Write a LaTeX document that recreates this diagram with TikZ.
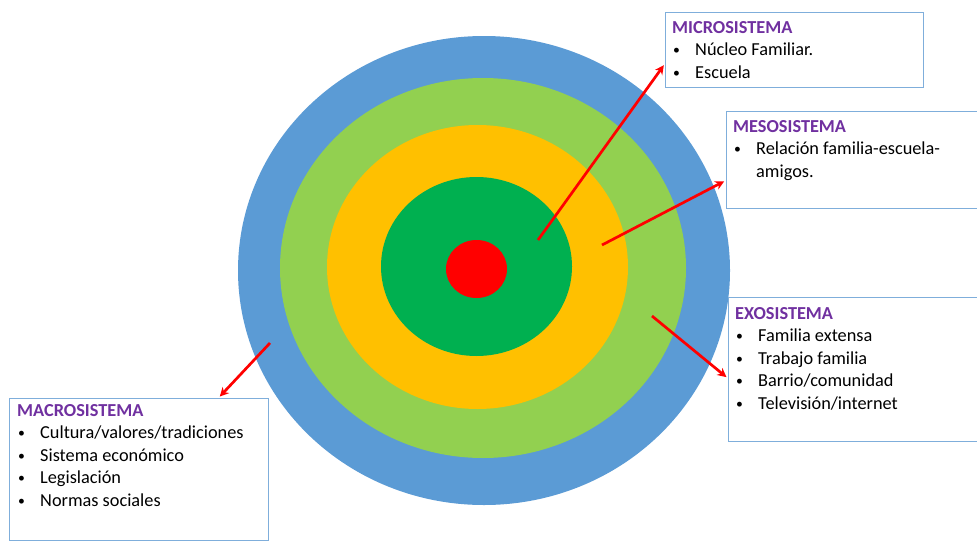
\documentclass[tikz,border=0pt]{standalone}
\usepackage{fontspec}
\setmainfont{Carlito}
\usetikzlibrary{arrows.meta}
\definecolor{azulanillo}{HTML}{5B9BD5}
\definecolor{verdeclaro}{HTML}{92D050}
\definecolor{amarillo}{HTML}{FFC000}
\definecolor{verdeoscuro}{HTML}{00B050}
\definecolor{rojo}{HTML}{FF0000}
\definecolor{borde}{HTML}{7FAEDB}
\definecolor{titulo}{HTML}{7030A0}
\newcommand{\vineta}{\hspace*{1pt}\makebox[22pt][l]{\raisebox{1pt}{\scalebox{0.75}{\textbullet}}}}
\newcommand{\titulo}[1]{{\color{titulo}\bfseries #1}}
\tikzset{
  caja/.style={draw=borde, line width=1pt, fill=white, anchor=north west, inner sep=0pt},
  texto/.style={anchor=north west, align=left, inner sep=0pt, font=\fontsize{18.3}{22.5}\selectfont},
  flecha/.style={draw=rojo, line width=2.7pt, shorten >=2pt, -{Stealth[length=9pt,width=9pt]}}
}
\begin{document}
\begin{tikzpicture}[x=1pt,y=-1pt]
                \clip (0,0) rectangle (977,554);
                \fill[white] (0,0) rectangle (977,554);
                %% anillos
                \fill[azulanillo] (484,270.5) ellipse [x radius=246, y radius=234.5];
                \fill[verdeclaro] (483,268) ellipse [x radius=203, y radius=190];
                \fill[amarillo] (477.5,267) ellipse [x radius=150.5, y radius=142];
                \fill[verdeoscuro] (476.5,266.5) ellipse [x radius=95.5, y radius=89.5];
                \fill[rojo] (476.5,269) ellipse [x radius=30.5, y radius=29];
                %% cajas
                \node[caja, minimum width=258pt, minimum height=75pt] (micro) at (665,12) {};
                \node[caja, minimum width=256pt, minimum height=97pt] (meso) at (726,111) {};
                \node[caja, minimum width=254pt, minimum height=144pt] (exo) at (728,297) {};
                \node[caja, minimum width=259pt, minimum height=142pt] (macro) at (9,398) {};
                %% textos
                \node[texto] (microtxt) at (672,21) {\titulo{MICROSISTEMA}\\
                  \vineta Núcleo Familiar.\\ \vineta Escuela};
                \node[texto] (mesotxt) at (733,120) {\titulo{MESOSISTEMA}\\
                  \vineta Relación familia-escuela-\\ \hspace*{23pt}amigos.};
                \node[texto] (exotxt) at (735,307) {\titulo{EXOSISTEMA}\\
                  \vineta Familia extensa\\ \vineta Trabajo familia\\
                  \vineta Barrio/comunidad\\ \vineta Televisión/internet};
                \node[texto] (macrotxt) at (17,404) {\titulo{MACROSISTEMA}\\
                  \vineta Cultura/valores/tradiciones\\ \vineta Sistema económico\\
                  \vineta Legislación\\ \vineta Normas sociales};
                %% flechas
                \coordinate (microcola) at (538,240);
                \coordinate (mesocola) at (602,245);
                \coordinate (exocola) at (652,316);
                \coordinate (macrocola) at (270,343);
                \draw[flecha] (microcola) -- (micro.186);
                \draw[flecha] (mesocola) -- (meso.189);
                \draw[flecha] (exocola) -- (exo.184);
                \draw[flecha] (macrocola) -- (macro.42);
            \end{tikzpicture}
\end{document}
